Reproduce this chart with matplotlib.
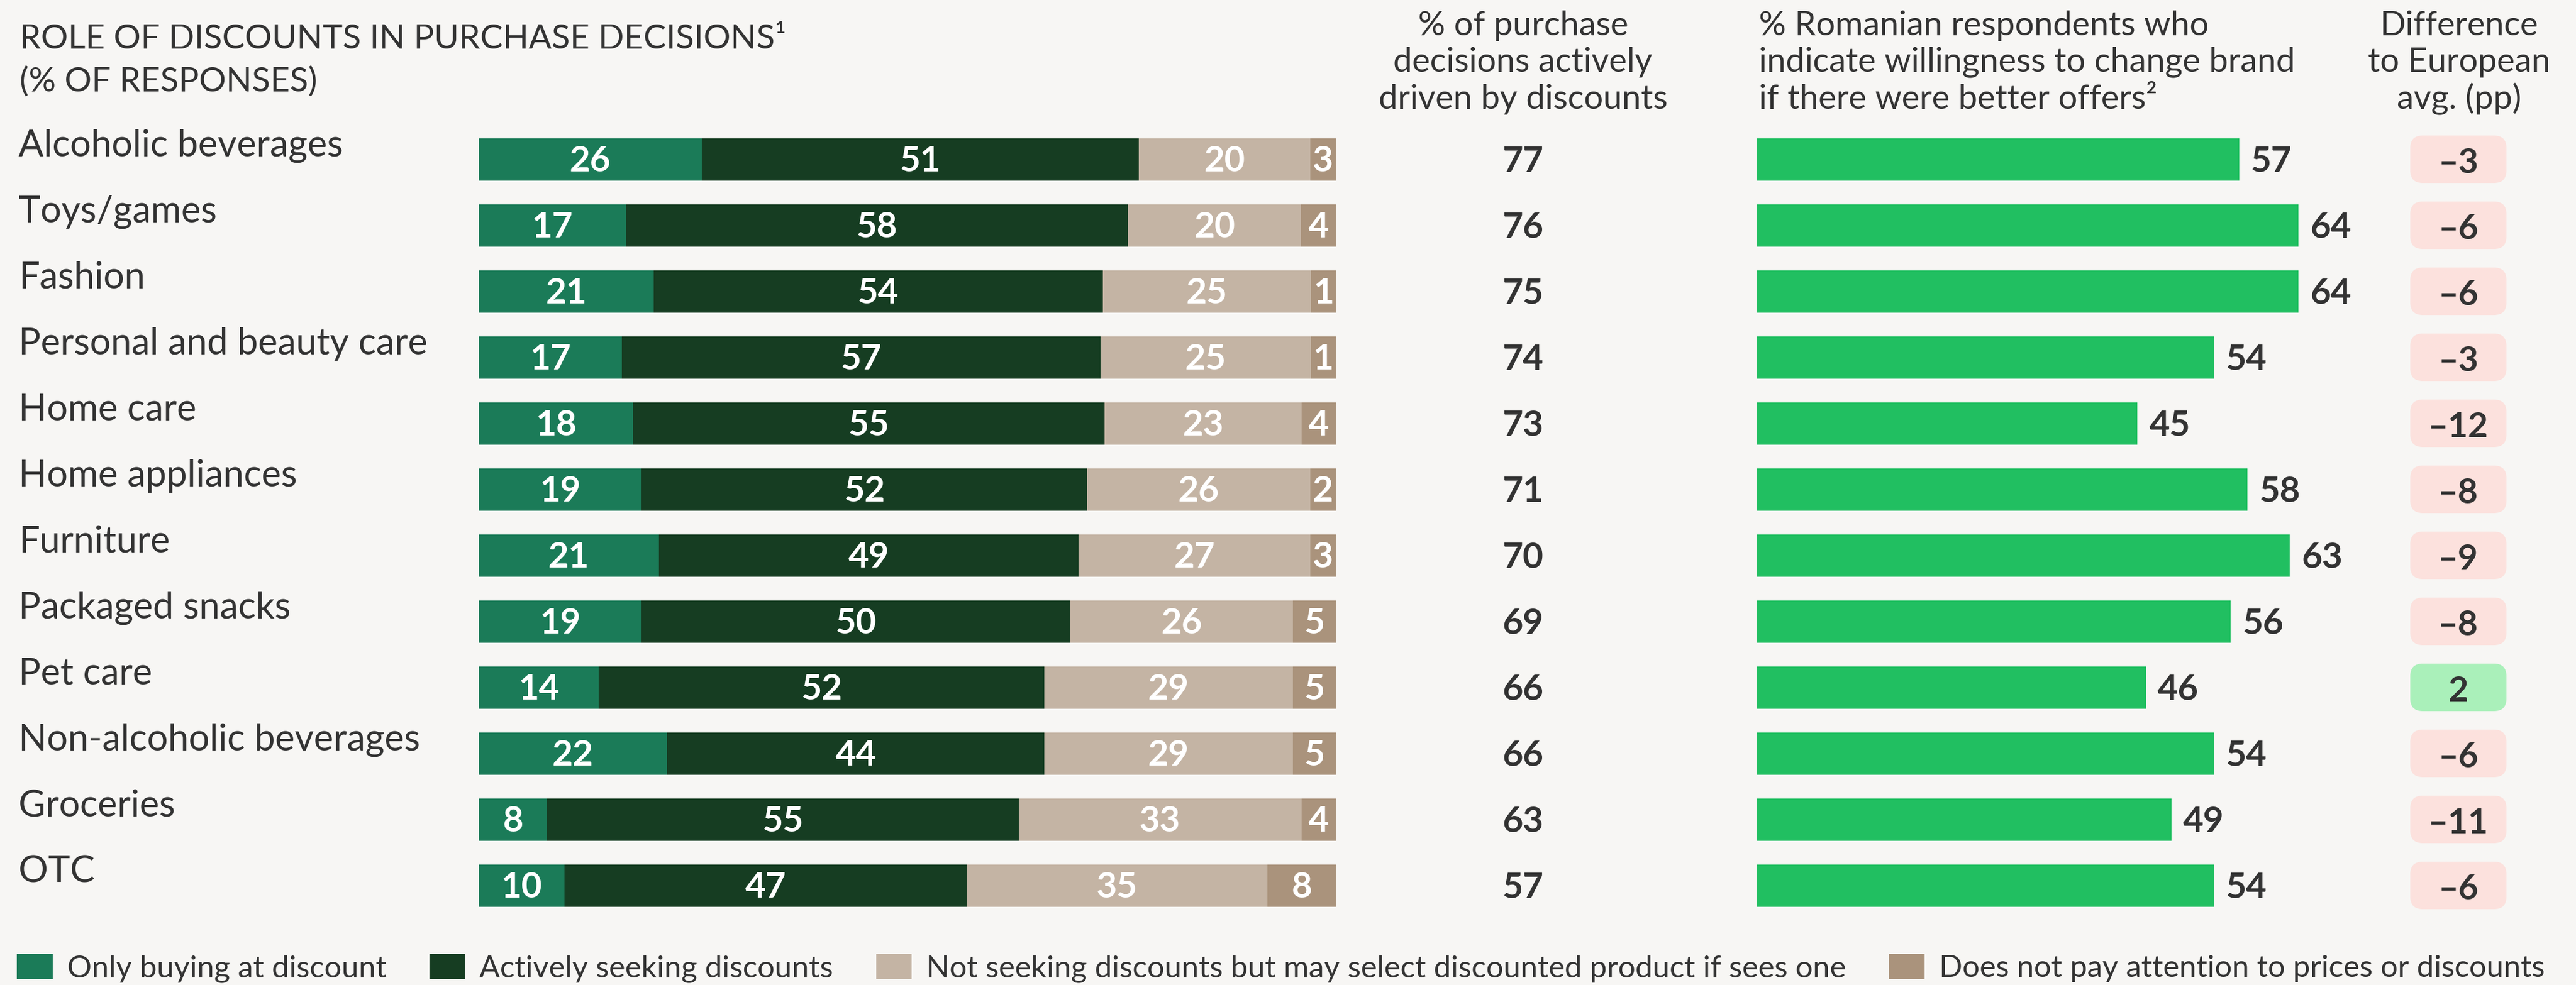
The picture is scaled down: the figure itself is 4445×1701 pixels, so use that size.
import matplotlib.pyplot as plt
from matplotlib.patches import FancyBboxPatch, Patch
from matplotlib import transforms

# --- data
categories = ["Alcoholic beverages", "Toys/games", "Fashion", "Personal and beauty care",
              "Home care", "Home appliances", "Furniture", "Packaged snacks", "Pet care",
              "Non-alcoholic beverages", "Groceries", "OTC"]
only_discount = [26, 17, 21, 17, 18, 19, 21, 19, 14, 22, 8, 10]
seeking = [51, 58, 54, 57, 55, 52, 49, 50, 52, 44, 55, 47]
may_select = [20, 20, 25, 25, 23, 26, 27, 26, 29, 29, 33, 35]
no_attention = [3, 4, 1, 1, 4, 2, 3, 5, 5, 5, 4, 8]
driven = [77, 76, 75, 74, 73, 71, 70, 69, 66, 66, 63, 57]
switch_brand = [57, 64, 64, 54, 45, 58, 63, 56, 46, 54, 49, 54]
diff_eu = [-3, -6, -6, -3, -12, -8, -9, -8, 2, -6, -11, -6]

segment_names = ["Only buying at discount", "Actively seeking discounts",
                 "Not seeking discounts but may select discounted product if sees one",
                 "Does not pay attention to prices or discounts"]

BG = "#F7F6F4"
TXT = "#333333"
SEG_COLORS = ["#1B7B58", "#163D22", "#C4B4A4", "#AA937C"]
GREEN = "#21BF61"
PINK = "#FCE1DD"
LIGHTGREEN = "#AAF0BA"
MIN_SEG = 3  # tiny segments are drawn at least this wide so the label fits

plt.rcParams['font.family'] = ['Lato', 'DejaVu Sans']
plt.rcParams['text.color'] = TXT

W, H = 4445, 1701
fig = plt.figure(figsize=(W / 100, H / 100), dpi=100, facecolor=BG)

TOP, BOT = 218, 1586
n = len(categories)


def make_axes(x0, x1, xmax):
    ax = fig.add_axes([x0 / W, 1 - BOT / H, (x1 - x0) / W, (BOT - TOP) / H])
    ax.set_xlim(0, xmax)
    ax.set_ylim(n - 0.5, -0.5)
    ax.axis("off")
    ax.set_facecolor("none")
    return ax


ax_bar = make_axes(826, 2305, 100)
ax_grn = make_axes(3031, 4492, 100)
ax_diff = make_axes(4159, 4325, 1)

rows = list(range(n))
bar_h = 73 / 114

# --- stacked bars (full width = 100%)
series = [only_discount, seeking, may_select, no_attention]
lefts = [0.0] * n
for vals, col in zip(series, SEG_COLORS):
    for i in rows:
        total = sum(max(s[i], MIN_SEG) for s in series)
        w = max(vals[i], MIN_SEG) / total * 100
        ax_bar.barh(i, w, left=lefts[i], height=bar_h, color=col, linewidth=0)
        ax_bar.text(lefts[i] + w / 2, i + 0.18, str(vals[i]), ha="center", va="baseline",
                    color="white", fontsize=44, fontweight="bold")
        lefts[i] += w

# --- category labels and driven column
lab_tr = transforms.blended_transform_factory(fig.transFigure, ax_bar.transData)
for i in rows:
    fig.text(32 / W, i - 0.045, categories[i], transform=lab_tr, ha="left", va="baseline",
             fontsize=46)
    fig.text(2628 / W, i + 0.19, str(driven[i]), transform=lab_tr, ha="center",
             va="baseline", fontsize=44, fontweight="bold")

# --- switching brand bars
ax_grn.barh(rows, switch_brand, height=bar_h, color=GREEN, linewidth=0)
for i in rows:
    ax_grn.annotate(str(switch_brand[i]), (switch_brand[i], i + 0.19), xytext=(20, 0),
                    textcoords="offset pixels", ha="left", va="baseline",
                    fontsize=44, fontweight="bold")

# --- difference pills
pill_h = 82 / 114
for i in rows:
    col = LIGHTGREEN if diff_eu[i] > 0 else PINK
    ax_diff.add_patch(FancyBboxPatch((0, i - pill_h / 2), 1, pill_h,
                                     boxstyle="round,pad=0,rounding_size=0.13",
                                     mutation_aspect=166 / 114, facecolor=col,
                                     edgecolor="none"))
    lbl = str(diff_eu[i]).replace("-", "\u2013")
    ax_diff.text(0.5, i + 0.21, lbl, ha="center", va="baseline", fontsize=43,
                 fontweight="bold")

# --- headers
title_lines = [("ROLE OF DISCOUNTS IN PURCHASE DECISIONS\u00b9", 84),
               ("(% OF RESPONSES)", 157)]
for txt, yb in title_lines:
    fig.text(34 / W, 1 - yb / H, txt, ha="left", va="baseline", fontsize=42)

headers = [
    (2628, "center", ["% of purchase", "decisions actively", "driven by discounts"]),
    (3035, "left", ["% Romanian respondents who", "indicate willingness to change brand",
                    "if there were better offers\u00b2"]),
    (4243, "center", ["Difference", "to European", "avg. (pp)"]),
]
for x, ha, lines in headers:
    for txt, yb in zip(lines, [61, 124, 188]):
        fig.text(x / W, 1 - yb / H, txt, ha=ha, va="baseline", fontsize=42)

# --- legend
handles = [Patch(facecolor=c, edgecolor="none") for c in SEG_COLORS]
fig.legend(handles, segment_names, loc="center left", bbox_to_anchor=(29 / W, 1 - 1672 / H),
           ncol=4, frameon=False, fontsize=38, handlelength=1.17, handleheight=0.91,
           handletextpad=0.47, columnspacing=1.4, borderpad=0, borderaxespad=0)

fig.savefig("out.png", dpi=100, facecolor=BG)
